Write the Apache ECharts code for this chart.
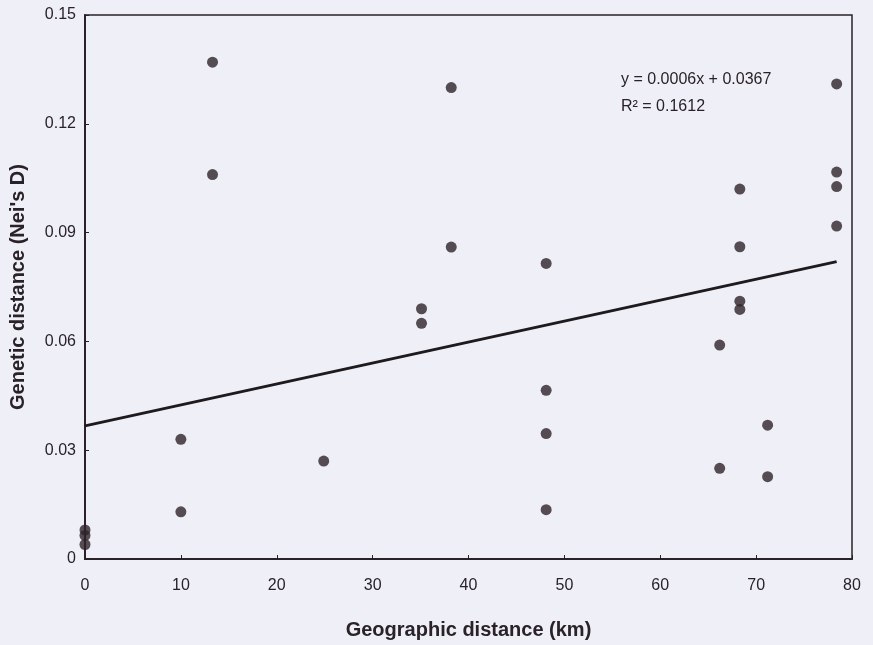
<!doctype html>
<html lang="en">
<head>
    <meta charset="UTF-8">
    <title>Genetic vs geographic distance</title>
    <script src="https://cdn.jsdelivr.net/npm/echarts@6/dist/echarts.min.js"></script>
    <style>
        html, body { margin: 0; padding: 0; background: #eff0f7; }
        #main { width: 873px; height: 645px; }
    </style>
</head>
<body>
<div id="main"></div>
<script>
    // geographic distance (km) / genetic distance pairs
    var distKm = [0, 0, 0, 10, 10, 13.3, 13.3, 24.9, 35.1, 35.1, 38.2, 38.2,
        48.1, 48.1, 48.1, 48.1, 66.2, 66.2, 68.3, 68.3, 68.3, 68.3, 71.2, 71.2,
        78.4, 78.4, 78.4, 78.4];
    var neiD = [0.008, 0.0065, 0.004, 0.033, 0.013, 0.137, 0.106, 0.027, 0.069, 0.065, 0.130, 0.086,
        0.0815, 0.0465, 0.0346, 0.0136, 0.059, 0.025, 0.102, 0.0861, 0.0711, 0.0688, 0.0369, 0.0227,
        0.131, 0.1067, 0.1027, 0.0918];

    // ends of the fitted line as drawn
    var trendX = [0, 78.4];
    var trendY = [0.0367, 0.082];

    var xTicks = [0, 10, 20, 30, 40, 50, 60, 70, 80];
    var yTicks = ['0', '0.03', '0.06', '0.09', '0.12', '0.15'];

    var points = distKm.map(function (d, i) { return [d, neiD[i]]; });
    var trend = trendX.map(function (d, i) { return [d, trendY[i]]; });

    var myChart = echarts.init(document.getElementById('main'));
    var axisFont = { fontFamily: 'Liberation Sans, Arial, sans-serif', fontSize: 16, color: '#2a2228' };
    var titleFont = { fontFamily: 'Liberation Sans, Arial, sans-serif', fontSize: 20, fontWeight: 'bold', color: '#2a2228' };

    var option = {
        backgroundColor: '#eff0f7',
        animation: false,
        grid: {
            left: 84, right: 21, top: 15, bottom: 85,
            show: true, borderColor: '#2a2228', borderWidth: 1.5, backgroundColor: 'transparent'
        },
        xAxis: {
            type: 'value',
            min: 0, max: 80, interval: 10,
            name: 'Geographic distance (km)',
            nameLocation: 'middle',
            nameGap: 61,
            nameTextStyle: titleFont,
            axisLine: { lineStyle: { color: '#2a2228', width: 2 } },
            axisTick: { inside: true, length: 4, lineStyle: { color: '#2a2228' } },
            axisLabel: Object.assign({ margin: 19, formatter: function (v) { return xTicks.indexOf(v) >= 0 ? String(v) : ''; } }, axisFont),
            splitLine: { show: false }
        },
        yAxis: {
            type: 'value',
            min: 0, max: 0.15, interval: 0.03,
            name: "Genetic distance (Nei's D)",
            nameLocation: 'middle',
            nameGap: 57,
            nameTextStyle: titleFont,
            axisLine: { show: true, lineStyle: { color: '#2a2228', width: 2 } },
            axisTick: { show: true, inside: true, length: 4, lineStyle: { color: '#2a2228' } },
            axisLabel: Object.assign({ margin: 9, formatter: function (v) { return yTicks[Math.round(v / 0.03)]; } }, axisFont),
            splitLine: { show: false }
        },
        series: [
            {
                name: 'trend',
                type: 'line',
                data: trend,
                symbol: 'none',
                lineStyle: { color: '#1e1a1e', width: 3 },
                z: 2
            },
            {
                name: 'pairs',
                type: 'scatter',
                data: points,
                symbolSize: 11,
                itemStyle: { color: '#2e2329' },
                z: 3
            }
        ],
        graphic: [
            {
                type: 'text',
                left: 621, top: 66,
                style: {
                    text: 'y = 0.0006x + 0.0367\nR\u00b2 = 0.1612',
                    fontFamily: 'Liberation Sans, Arial, sans-serif',
                    fontSize: 16, lineHeight: 27, fill: '#2a2228'
                }
            }
        ]
    };
    myChart.setOption(option);
</script>
</body>
</html>
